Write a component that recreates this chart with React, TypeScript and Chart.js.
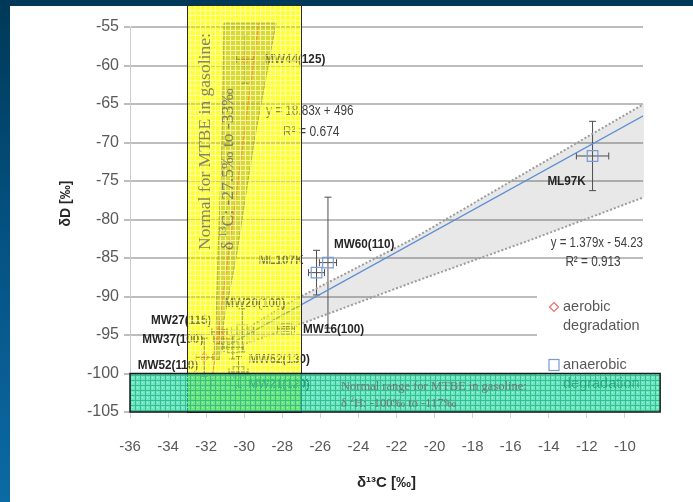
import React, { useEffect, useRef } from 'react';
import { Chart, registerables } from 'chart.js';

Chart.register(...registerables);

// ---------- data ----------
const X_TICKS = [-36, -34, -32, -30, -28, -26, -24, -22, -20, -18, -16, -14, -12, -10];
const Y_TICKS = [-105, -100, -95, -90, -85, -80, -75, -70, -65, -60, -55];

const AEROBIC_NAMES = ['MW44(125)', 'MW27(115)', 'MW37(100)', 'MW52(110)'];
const AEROBIC_C = [-29.95, -31.3, -31.1, -32.1];
const AEROBIC_D = [-59.2, -94.6, -95.5, -97.9];
const AEROBIC_ERR_C = [0.45, 0.4, 0.5, 0.45];
const AEROBIC_ERR_D = [3.1, 1.5, 1.2, 2.5];

const ANAEROBIC_NAMES = ['ML97K', 'MW60(110)', 'ML107K', 'MW16(100)', 'MW20(100)', 'MW62(130)', 'MW21(120)'];
const ANAEROBIC_C = [-11.7, -25.6, -26.2, -27.8, -30.1, -30.6, -30.3];
const ANAEROBIC_D = [-71.75, -85.6, -86.9, -94.2, -94.4, -96.6, -99.8];
const ANAEROBIC_ERR_C = [0.85, 0.45, 0.42, 0.45, 0.6, 0.55, 0.5];
const ANAEROBIC_ERR_D = [4.5, 8.5, 2.9, 0.3, 2.8, 1.5, 2.0];

// trend lines (end points)
const ANA_TREND_C = [-31.2, -9.0];
const ANA_TREND_D = [-96.8, -66.5];
const AER_TREND_C = [-31.78, -29.24];
const AER_TREND_D = [-102.5, -54.5];

// confidence bands
const ANA_BAND_C = [-31.5, -27.5, -21.2, -15.0, -9.0];
const ANA_BAND_UPPER = [-96.6, -90.6, -82.6, -73.6, -65.0];
const ANA_BAND_LOWER = [-97.5, -94.0, -88.2, -82.7, -77.1];
const AER_BAND_D = [-54.5, -70, -85, -93, -98.2];
const AER_BAND_LEFT = [-31.06, -31.17, -31.38, -31.48, -31.6];
const AER_BAND_RIGHT = [-28.33, -29.49, -30.43, -31.06, -31.3];

// highlighted ranges
const YELLOW_C = [-33, -27];
const YELLOW_D = [-105, -52.2];
const GREEN_C = [-36, -8.15];
const GREEN_D = [-105, -100];

// ---------- styles ----------
const SANS = "'Liberation Sans', Arial, sans-serif";
const SERIF = "'Liberation Serif', 'Times New Roman', serif";

// label placement in px: [dx, dy, align]
const AEROBIC_LABEL_POS: [number, number, CanvasTextAlign][] = [
  [19, 0, 'left'], [-8, -11, 'right'], [-20, 1, 'right'], [-6, 8, 'right'],
];
const ANAEROBIC_LABEL_POS: [number, number, CanvasTextAlign][] = [
  [-26, 25, 'center'], [6, -18, 'left'], [-13, -12, 'right'], [17, 1, 'left'],
  [-18, -27, 'left'], [16, 12, 'left'], [10, 12, 'left'],
];

function makeTile(base: string, line: string, dot: string | null, size: number) {
  const c = document.createElement('canvas');
  c.width = size;
  c.height = size;
  const g = c.getContext('2d')!;
  g.fillStyle = base;
  g.fillRect(0, 0, size, size);
  g.fillStyle = line;
  g.fillRect(0, 0, size, 1);
  g.fillRect(0, 1, 1, size - 1);
  if (dot) {
    g.fillStyle = dot;
    g.fillRect(Math.floor(size / 2), Math.floor(size / 2), 1, 1);
  }
  return c;
}

// condensed text (horizontal squeeze)
function narrowText(ctx: CanvasRenderingContext2D, t: string, x: number, y: number, sx: number) {
  ctx.save();
  ctx.translate(x, y);
  ctx.scale(sx, 1);
  ctx.fillText(t, 0, 0);
  ctx.restore();
}

const overlayPlugin = {
  id: 'overlayPlugin',
  beforeDatasetsDraw(chart: any) {
    const { ctx } = chart;
    const xs = chart.scales.x;
    const ys = chart.scales.y;
    const X = (v: number) => xs.getPixelForValue(v);
    const Y = (v: number) => ys.getPixelForValue(v);
    ctx.save();
    // anaerobic band
    ctx.beginPath();
    ANA_BAND_C.forEach((c, i) => {
      const px = X(c), py = Y(ANA_BAND_UPPER[i]);
      if (i === 0) ctx.moveTo(px, py); else ctx.lineTo(px, py);
    });
    for (let i = ANA_BAND_C.length - 1; i >= 0; i--) ctx.lineTo(X(ANA_BAND_C[i]), Y(ANA_BAND_LOWER[i]));
    ctx.closePath();
    ctx.fillStyle = 'rgba(0,0,0,0.09)';
    ctx.fill();
    // aerobic band
    ctx.beginPath();
    AER_BAND_D.forEach((d, i) => {
      const px = X(AER_BAND_LEFT[i]), py = Y(d);
      if (i === 0) ctx.moveTo(px, py); else ctx.lineTo(px, py);
    });
    for (let i = AER_BAND_D.length - 1; i >= 0; i--) ctx.lineTo(X(AER_BAND_RIGHT[i]), Y(AER_BAND_D[i]));
    ctx.closePath();
    ctx.fillStyle = 'rgba(110,110,110,0.45)';
    ctx.fill();
    ctx.strokeStyle = 'rgba(90,90,90,0.7)';
    ctx.lineWidth = 1;
    ctx.stroke();

    // error bars
    ctx.strokeStyle = '#4d4d4d';
    ctx.lineWidth = 1;
    const cap = 3.5;
    const bars = (cs: number[], ds: number[], ec: number[], ed: number[]) => {
      cs.forEach((c, i) => {
        const px = X(c), py = Y(ds[i]);
        const x1 = X(c - ec[i]), x2 = X(c + ec[i]);
        const y1 = Y(ds[i] + ed[i]), y2 = Y(ds[i] - ed[i]);
        ctx.beginPath();
        ctx.moveTo(x1, py); ctx.lineTo(x2, py);
        ctx.moveTo(x1, py - cap); ctx.lineTo(x1, py + cap);
        ctx.moveTo(x2, py - cap); ctx.lineTo(x2, py + cap);
        ctx.moveTo(px, y1); ctx.lineTo(px, y2);
        ctx.moveTo(px - cap, y1); ctx.lineTo(px + cap, y1);
        ctx.moveTo(px - cap, y2); ctx.lineTo(px + cap, y2);
        ctx.stroke();
      });
    };
    bars(AEROBIC_C, AEROBIC_D, AEROBIC_ERR_C, AEROBIC_ERR_D);
    bars(ANAEROBIC_C, ANAEROBIC_D, ANAEROBIC_ERR_C, ANAEROBIC_ERR_D);
    ctx.restore();
  },
  afterDatasetsDraw(chart: any) {
    const { ctx, chartArea } = chart;
    const xs = chart.scales.x;
    const ys = chart.scales.y;
    const X = (v: number) => xs.getPixelForValue(v);
    const Y = (v: number) => ys.getPixelForValue(v);
    ctx.save();
    // point labels
    ctx.font = `bold 13px ${SANS}`;
    ctx.fillStyle = '#262626';
    ctx.textBaseline = 'middle';
    const labels = (names: string[], cs: number[], ds: number[], pos: [number, number, CanvasTextAlign][]) => {
      names.forEach((n, i) => {
        ctx.textAlign = pos[i][2];
        narrowText(ctx, n, X(cs[i]) + pos[i][0], Y(ds[i]) + pos[i][1], 0.9);
      });
    };
    labels(AEROBIC_NAMES, AEROBIC_C, AEROBIC_D, AEROBIC_LABEL_POS);
    labels(ANAEROBIC_NAMES, ANAEROBIC_C, ANAEROBIC_D, ANAEROBIC_LABEL_POS);

    // trend line equations
    ctx.font = `14px ${SANS}`;
    ctx.fillStyle = '#404040';
    ctx.textAlign = 'right';
    narrowText(ctx, 'y = 1.379x - 54.23', chartArea.right, 243, 0.82);
    ctx.textAlign = 'center';
    narrowText(ctx, 'R² = 0.913', chartArea.right - 50, 262, 0.84);
    ctx.textAlign = 'left';
    narrowText(ctx, 'y = 18.83x + 496', 266, 111, 0.84);
    narrowText(ctx, 'R² = 0.674', 283, 132, 0.86);

    // legend
    const lx = chartArea.right - 106;
    ctx.fillStyle = '#ffffff';
    ctx.fillRect(lx, 288, 113, 110);
    ctx.strokeStyle = '#e87070';
    ctx.lineWidth = 1.2;
    ctx.beginPath();
    ctx.moveTo(lx + 17, 302.5); ctx.lineTo(lx + 21.5, 307); ctx.lineTo(lx + 17, 311.5); ctx.lineTo(lx + 12.5, 307); ctx.closePath();
    ctx.stroke();
    ctx.strokeStyle = '#7a9ad4';
    ctx.strokeRect(lx + 12, 359.5, 10, 11);
    ctx.font = `14.5px ${SANS}`;
    ctx.fillStyle = '#595959';
    ctx.textAlign = 'left';
    ctx.fillText('aerobic', lx + 26, 307);
    ctx.fillText('degradation', lx + 26, 326);
    ctx.fillText('anaerobic', lx + 26, 365);
    ctx.fillText('degradation', lx + 26, 384);
    ctx.restore();
  },
  afterDraw(chart: any) {
    const { ctx, chartArea } = chart;
    const xs = chart.scales.x;
    const ys = chart.scales.y;
    const X = (v: number) => xs.getPixelForValue(v);
    const Y = (v: number) => ys.getPixelForValue(v);
    ctx.save();

    // yellow range
    const yl = X(YELLOW_C[0]), yr = X(YELLOW_C[1]);
    const yt = Y(YELLOW_D[1]), yb = Y(YELLOW_D[0]);
    ctx.globalCompositeOperation = 'multiply';
    ctx.fillStyle = 'rgb(255,255,30)';
    ctx.fillRect(yl, yt, yr - yl, yb - yt);
    ctx.globalCompositeOperation = 'source-over';
    const yTile = makeTile('rgba(255,255,90,0.42)', 'rgba(255,255,215,0.7)', null, 5);
    ctx.fillStyle = ctx.createPattern(yTile, 'repeat');
    ctx.fillRect(yl, yt, yr - yl, yb - yt);
    ctx.strokeStyle = '#2a2a2a';
    ctx.lineWidth = 1;
    ctx.strokeRect(Math.round(yl) + 0.5, Math.round(yt) + 0.5, Math.round(yr - yl), Math.round(yb - yt));

    ctx.fillStyle = 'rgba(110,110,100,0.85)';
    ctx.textBaseline = 'middle';
    ctx.textAlign = 'left';
    ctx.save();
    ctx.translate(yl + 18, 250);
    ctx.rotate(-Math.PI / 2);
    ctx.font = `17.5px ${SERIF}`;
    ctx.fillText('Normal for MTBE in gasoline:', 0, 0);
    ctx.restore();
    ctx.save();
    ctx.translate(yl + 41, 250);
    ctx.rotate(-Math.PI / 2);
    ctx.font = `17.5px ${SERIF}`;
    let off = 0;
    ctx.fillText('δ ', off, 0);
    off += ctx.measureText('δ ').width;
    ctx.font = `11px ${SERIF}`;
    ctx.fillText('13', off, -5);
    off += ctx.measureText('13').width;
    ctx.font = `17.5px ${SERIF}`;
    ctx.fillText('C: -27.5‰ to -33‰', off, 0);
    ctx.restore();

    // green range
    const gl = X(GREEN_C[0]), gr = X(GREEN_C[1]);
    const gt = Y(GREEN_D[1]), gb = Y(GREEN_D[0]);
    const gTile = makeTile('rgba(30,222,160,0.66)', 'rgba(20,150,110,0.55)', 'rgba(210,255,240,0.7)', 5);
    ctx.fillStyle = ctx.createPattern(gTile, 'repeat');
    ctx.fillRect(gl, gt, gr - gl, gb - gt);
    ctx.strokeStyle = '#1a1a1a';
    ctx.lineWidth = 1.5;
    ctx.strokeRect(gl, gt, gr - gl, gb - gt);

    ctx.fillStyle = 'rgba(110,110,110,0.9)';
    ctx.font = `12.5px ${SERIF}`;
    ctx.fillText('Normal range for MTBE in gasoline:', gl + 211, gt + 13);
    let o2 = gl + 211;
    ctx.fillText('δ ', o2, gt + 30);
    o2 += ctx.measureText('δ ').width;
    ctx.font = `8px ${SERIF}`;
    ctx.fillText('2', o2, gt + 26);
    o2 += ctx.measureText('2').width;
    ctx.font = `12.5px ${SERIF}`;
    ctx.fillText('H: -100‰ to -117‰', o2, gt + 30);

    // y axis title
    ctx.save();
    ctx.translate(chartArea.left - 64, (chartArea.top + chartArea.bottom) / 2 - 16);
    ctx.rotate(-Math.PI / 2);
    ctx.textAlign = 'center';
    ctx.font = `bold 14px ${SANS}`;
    ctx.fillStyle = '#262626';
    ctx.fillText('δD [‰]', 0, 0);
    ctx.restore();

    ctx.restore();
  },
};

const toPts = (xs: number[], ys: number[]) => xs.map((x, i) => ({ x, y: ys[i] }));

export default function App() {
  const ref = useRef<HTMLCanvasElement>(null);
  useEffect(() => {
    const chart = new Chart(ref.current!, {
      type: 'scatter',
      data: {
        datasets: [
          {
            label: 'band upper',
            data: toPts(ANA_BAND_C, ANA_BAND_UPPER),
            showLine: true,
            borderColor: '#9c9c9c',
            borderWidth: 2,
            borderDash: [2, 2],
            pointRadius: 0,
          },
          {
            label: 'band lower',
            data: toPts(ANA_BAND_C, ANA_BAND_LOWER),
            showLine: true,
            borderColor: '#9c9c9c',
            borderWidth: 2,
            borderDash: [2, 2],
            pointRadius: 0,
          },
          {
            label: 'anaerobic trend',
            data: toPts(ANA_TREND_C, ANA_TREND_D),
            showLine: true,
            borderColor: '#5f8fd4',
            borderWidth: 1.3,
            pointRadius: 0,
          },
          {
            label: 'aerobic trend',
            data: toPts(AER_TREND_C, AER_TREND_D),
            showLine: true,
            borderColor: '#e8603c',
            borderWidth: 1.2,
            pointRadius: 0,
            clip: false,
          } as any,
          {
            label: 'aerobic degradation',
            data: toPts(AEROBIC_C, AEROBIC_D),
            pointStyle: 'rectRot',
            pointRadius: 4.5,
            borderColor: '#e87070',
            backgroundColor: 'rgba(0,0,0,0)',
            borderWidth: 1.2,
          },
          {
            label: 'anaerobic degradation',
            data: toPts(ANAEROBIC_C, ANAEROBIC_D),
            pointStyle: 'rect',
            pointRadius: 7.5,
            borderColor: '#7a9ad4',
            backgroundColor: 'rgba(0,0,0,0)',
            borderWidth: 1.2,
          },
        ],
      },
      options: {
        animation: false,
        responsive: false,
        devicePixelRatio: 1,
        layout: { padding: { left: 0, right: 50, top: 27, bottom: 0 } },
        plugins: { legend: { display: false }, tooltip: { enabled: false } },
        scales: {
          x: {
            type: 'linear',
            min: -36,
            max: -9.05,
            afterBuildTicks: (s: any) => {
              s.ticks = X_TICKS.map((v) => ({ value: v }));
            },
            afterFit: (s: any) => {
              s.height = 90;
            },
            ticks: {
              font: { family: SANS, size: 15 },
              color: '#595959',
              padding: 20,
              maxRotation: 0,
              autoSkip: false,
            },
            grid: { drawOnChartArea: false, color: '#d4d4d4', tickLength: 6 },
            border: { display: true, color: '#d4d4d4' },
            title: {
              display: true,
              text: 'δ¹³C [‰]',
              font: { family: SANS, size: 15, weight: 'bold' },
              color: '#262626',
              padding: { top: 0, bottom: 10 },
            },
          },
          y: {
            type: 'linear',
            min: -105,
            max: -55,
            afterBuildTicks: (s: any) => {
              s.ticks = Y_TICKS.map((v) => ({ value: v }));
            },
            afterFit: (s: any) => {
              s.width = 130;
            },
            ticks: {
              font: { family: SANS, size: 16 },
              color: '#595959',
              padding: 5,
              autoSkip: false,
            },
            grid: { color: '#bdbdbd', lineWidth: 2, tickLength: 6 },
            border: { display: true, color: '#cccccc' },
          },
        },
      },
      plugins: [overlayPlugin],
    } as any);
    return () => chart.destroy();
  }, []);

  return (
    <div
      style={{
        position: 'fixed',
        left: 0,
        top: 0,
        width: 693,
        height: 502,
        overflow: 'hidden',
        background: 'linear-gradient(180deg, #003957 0%, #045181 45%, #0c6aa4 100%)',
      }}
    >
      <div style={{ position: 'absolute', left: 10, top: 6, right: 0, bottom: 0, background: '#ffffff' }} />
      <canvas
        ref={ref}
        width={693}
        height={502}
        style={{ position: 'absolute', left: 0, top: 0, width: 693, height: 502 }}
      />
    </div>
  );
}
